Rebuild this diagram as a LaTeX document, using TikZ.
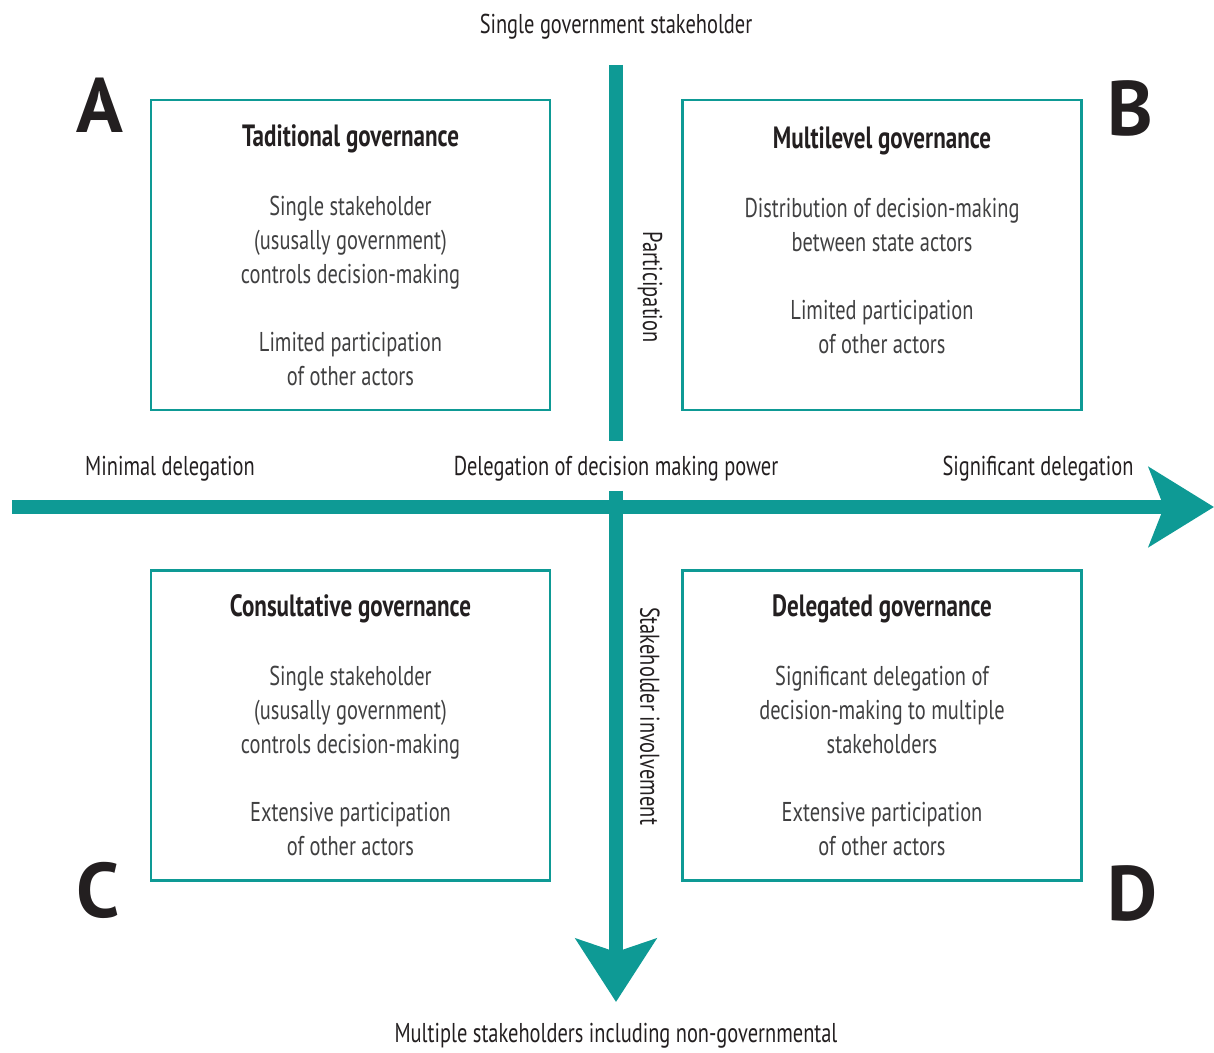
\documentclass[tikz,border=0pt]{standalone}
\usepackage{fontspec}
\setmainfont{PT Sans}[FakeStretch=0.75]
\newfontfamily\letterfont{PT Sans}
\usetikzlibrary{arrows.meta}
\definecolor{teal axis}{HTML}{0E9A95}
\definecolor{body gray}{HTML}{404041}
\definecolor{ink}{HTML}{231F20}
\begin{document}
\begin{tikzpicture}[x=0.02cm,y=-0.02cm,
                       quad box/.style={draw=teal axis,line width=1.3pt,minimum width=7.98cm,minimum height=6.2cm,inner sep=0pt},
                       quad title/.style={font=\fontsize{17.5}{19.4}\selectfont\bfseries,text=ink},
                       quad text/.style={font=\fontsize{15.5}{19.4}\selectfont,text=body gray,align=center},
                       axis label/.style={font=\fontsize{15.5}{18}\selectfont,text=ink},
                       quad letter/.style={font=\letterfont\fontsize{44}{50}\selectfont\bfseries,text=ink},
                       axis line/.style={draw=teal axis,line width=0.27cm}
                      ]
  \useasboundingbox (0,0) rectangle (1214,1053);

  % quadrant boxes
  \node[quad box] (A box) at (350.5,255) {};
  \node[quad box] (B box) at (882,255) {};
  \node[quad box] (C box) at (350.5,725.5) {};
  \node[quad box] (D box) at (882,725.5) {};

  \node[quad letter] (A) at (100,105) {A};
  \node[quad letter] (B) at (1130,108) {B};
  \node[quad letter] (C) at (98,890) {C};
  \node[quad letter] (D) at (1132,893) {D};

  \node[quad title] (A title) at (350.5,139) {Taditional governance};
  \node[quad text] (A text) at (350.5,291) {Single stakeholder\\(ususally government)\\controls decision-making\\[19.4pt]Limited participation\\of other actors};
  \node[quad title] (B title) at (882,141) {Multilevel governance};
  \node[quad text] (B text) at (882,276) {Distribution of decision-making\\between state actors\\[19.4pt]Limited participation\\of other actors};
  \node[quad title] (C title) at (350.5,609) {Consultative governance};
  \node[quad text] (C text) at (350.5,761) {Single stakeholder\\(ususally government)\\controls decision-making\\[19.4pt]Extensive participation\\of other actors};
  \node[quad title] (D title) at (882,609) {Delegated governance};
  \node[quad text] (D text) at (882,761) {Significant delegation of\\decision-making to multiple\\stakeholders\\[19.4pt]Extensive participation\\of other actors};

  % axis labels
  \node[axis label] (top) at (616,27) {Single government stakeholder};
  \node[axis label] (bottom) at (616,1036) {Multiple stakeholders including non-governmental};
  \node[axis label] (minimal) at (170,469) {Minimal delegation};
  \node[axis label] (delegation) at (616,469) {Delegation of decision making power};
  \node[axis label] (significant) at (1038,469) {Significant delegation};
  \node[axis label,rotate=-90] (participation) at (650,287) {Participation};
  \node[axis label,rotate=-90] (involvement) at (650,716) {Stakeholder involvement};

  % axes
  \coordinate (west) at (12,507);
  \coordinate (east) at (1214,507);
  \coordinate (north) at (616,65);
  \coordinate (gap top) at (616,441);
  \coordinate (gap bottom) at (616,491);
  \coordinate (south) at (616,1002);

  \draw[axis line,-{Stealth[length=1.3cm,width=1.58cm,inset=0.3cm]}] (west) -- (east);
  \draw[axis line] (north) -- (gap top);
  \draw[axis line,-{Stealth[length=1.26cm,width=1.6cm,inset=0.26cm]}] (gap bottom) -- (south);
\end{tikzpicture}
\end{document}
